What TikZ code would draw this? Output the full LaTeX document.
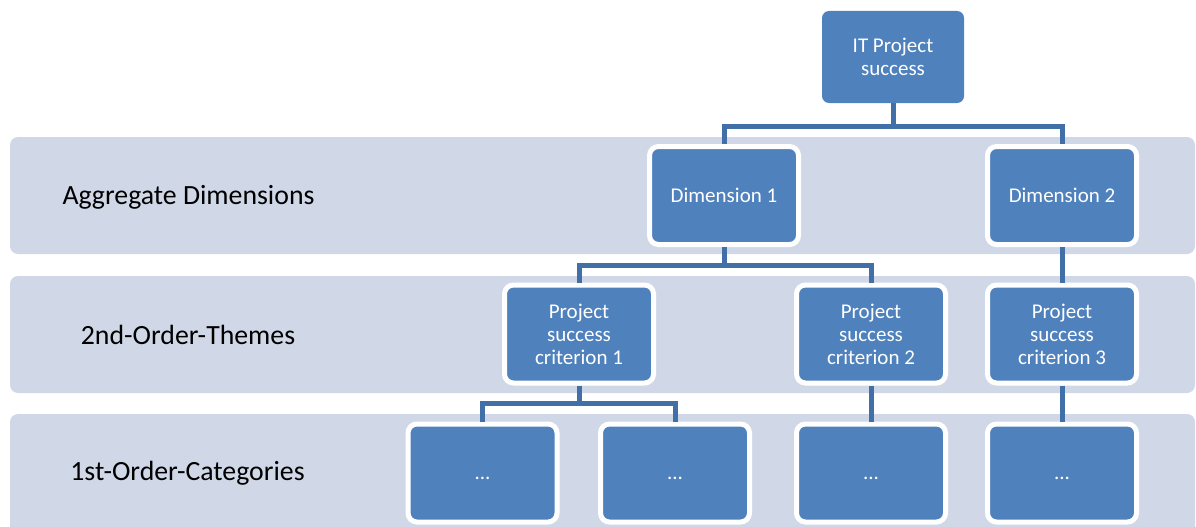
\documentclass[tikz,border=0pt]{standalone}
\usepackage{fontspec}
\setmainfont{Carlito}
\definecolor{boxblue}{RGB}{79,129,189}
\definecolor{bandgray}{RGB}{208,216,232}
\definecolor{linkblue}{RGB}{65,112,168}
\tikzset{
  band/.style={fill=bandgray, draw=none, rounded corners=8pt},
  bandlabel/.style={font=\fontsize{27.8}{31}\selectfont, text=black, anchor=center},
  topbox/.style={fill=boxblue, draw=none, rounded corners=7pt, minimum width=142pt, minimum height=92pt,
    text=white, align=center, font=\fontsize{21}{23}\selectfont, inner sep=0pt},
  itembox/.style={fill=boxblue, draw=white, line width=5pt, rounded corners=9pt, minimum width=149pt, minimum height=98pt,
    text=white, align=center, font=\fontsize{21}{23}\selectfont, inner sep=0pt},
  conn/.style={draw=linkblue, line width=5pt}
}
\begin{document}
\begin{tikzpicture}[x=1pt,y=-1pt]
\useasboundingbox (0,0) rectangle (1196,527);
\clip (0,0) rectangle (1196,527);
% bands
\path[band] (10,137) rectangle (1195,254);
\path[band] (10,276) rectangle (1195,393);
\path[band] (10,414) rectangle (1195,545);
\node[bandlabel] (l1) at (188.5,197) {Aggregate Dimensions};
\node[bandlabel] (l2) at (188,335) {2nd-Order-Themes};
\node[bandlabel] (l3) at (187.5,473) {1st-Order-Categories};
% bar coordinates
\coordinate (bar1) at (0,126.5);
\coordinate (bar2) at (0,265);
\coordinate (bar3) at (0,403);
% node positions
\path (893,57) coordinate (ptop);
\path (724,195.5) coordinate (pd1);
\path (1062,195.5) coordinate (pd2);
\path (579,334) coordinate (pc1);
\path (871,334) coordinate (pc2);
\path (1062,334) coordinate (pc3);
\path (482.5,473) coordinate (pb1);
\path (675,473) coordinate (pb2);
\path (871,473) coordinate (pb3);
\path (1062,473) coordinate (pb4);
% nodes
\node[topbox] (top) at (ptop) {IT Project\\success};
\node[itembox] (d1) at (pd1) {Dimension 1};
\node[itembox] (d2) at (pd2) {Dimension 2};
\node[itembox] (c1) at (pc1) {Project\\success\\criterion 1};
\node[itembox] (c2) at (pc2) {Project\\success\\criterion 2};
\node[itembox] (c3) at (pc3) {Project\\success\\criterion 3};
\node[itembox] (b1) at (pb1) {\vphantom{Ây}...};
\node[itembox] (b2) at (pb2) {\vphantom{Ây}...};
\node[itembox] (b3) at (pb3) {\vphantom{Ây}...};
\node[itembox] (b4) at (pb4) {\vphantom{Ây}...};
% connectors
\draw[conn] (top.south) -- (top.south |- bar1) -| (d1.north);
\draw[conn] (top.south |- bar1) -| (d2.north);
\draw[conn] (d1.south) -- (d1.south |- bar2) -| (c1.north);
\draw[conn] (d1.south |- bar2) -| (c2.north);
\draw[conn] (d2.south) -- (c3.north);
\draw[conn] (c1.south) -- (c1.south |- bar3) -| (b1.north);
\draw[conn] (c1.south |- bar3) -| (b2.north);
\draw[conn] (c2.south) -- (b3.north);
\draw[conn] (c3.south) -- (b4.north);
\end{tikzpicture}
\end{document}
